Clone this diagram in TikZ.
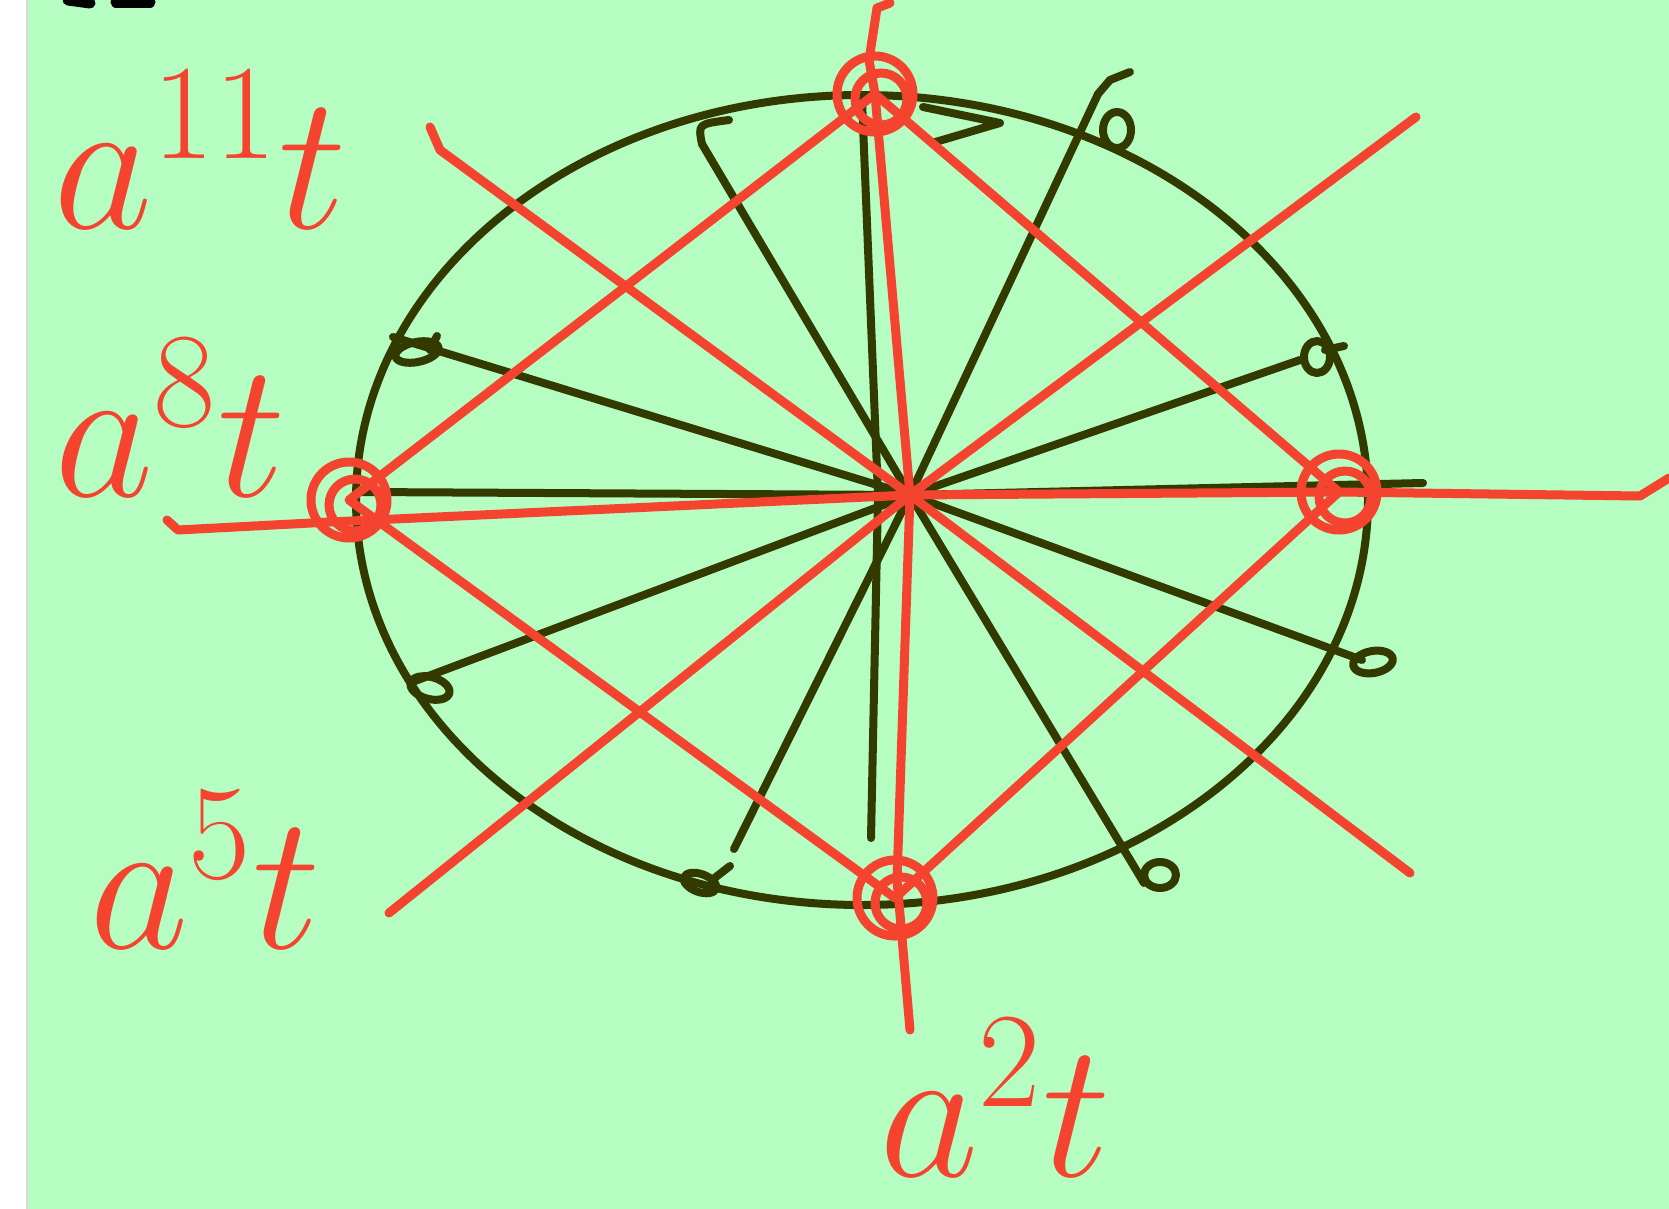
\RequirePackage{fix-cm}
\documentclass[tikz,border=0pt]{standalone}
\usepackage{xcolor}
\usepackage{tikz}
\definecolor{board}{RGB}{181,253,193}
\definecolor{ink}{RGB}{50,58,0}
\definecolor{marker}{RGB}{244,68,48}

\begin{document}
\begin{tikzpicture}[
    x=0.01cm, y=-0.01cm,
    spoke/.style={draw=ink, line width=0.8mm, line cap=round, line join=round},
    redline/.style={draw=marker, line width=0.9mm, line cap=round, line join=round},
    marklabel/.style={text=marker, font=\fontsize{55}{60}\selectfont, inner sep=0pt}
]
    \useasboundingbox (0,0) rectangle (1669,1209);
    \fill[white] (0,0) rectangle (27,1209);
    \fill[board] (27,0) rectangle (1669,1209);
    \draw[gray!30, line width=0.2mm] (27,0) -- (27,1209);

    % cut-off writing at the top edge
    \draw[black, line width=1.1mm, line cap=round] (68,0) -- (90,3);
    \draw[black, line width=1.1mm, line cap=round] (116,2) -- (150,2);

    \coordinate (hub) at (910,495);
    \coordinate (s1) at (862,100);
    \coordinate (s2) at (702,144);
    \coordinate (s3) at (1098,94);
    \coordinate (s4) at (393,337);
    \coordinate (s5) at (1300,360);
    \coordinate (s6) at (362,492);
    \coordinate (s7) at (1423,483);
    \coordinate (s8) at (415,681);
    \coordinate (s9) at (1362,660);
    \coordinate (s10) at (734,849);
    \coordinate (s11) at (871,838);
    \coordinate (s12) at (1144,883);

    % the wheel
    \draw[spoke] (862,500) ellipse [x radius=506, y radius=405];
    \foreach \i in {2,...,10,12}
        \draw[spoke] (hub) -- (s\i);
    \draw[spoke] (s1) -- (878,495) -- (s11);

    % little loops at the spoke ends
    \draw[spoke] (s2) .. controls (698,124) .. (729,120);
    \draw[spoke] (s3) -- (1110,80) -- (1130,72);
    \draw[spoke] (1117,130) ellipse [x radius=14, y radius=18];
    \draw[spoke, rotate around={12:(417,352)}] (417,352) ellipse [x radius=22, y radius=10];
    \draw[spoke] (430,350) -- (437,336);
    \draw[spoke] (1317,357) ellipse [x radius=13, y radius=16];
    \draw[spoke] (1325,350) -- (1344,346);
    \draw[spoke, rotate around={-15:(430,688)}] (430,688) ellipse [x radius=20, y radius=11];
    \draw[spoke, rotate around={10:(1373,662)}] (1373,662) ellipse [x radius=20, y radius=11];
    \draw[spoke] (1160,875) ellipse [x radius=16, y radius=13];
    \draw[spoke, rotate around={-20:(700,883)}] (700,883) ellipse [x radius=17, y radius=9];
    \draw[spoke] (712,880) -- (730,866);
    \draw[spoke] (923,107) -- (1000,123) -- (932,143);

    % red square and axes
    \coordinate (pl) at (349,500);
    \coordinate (pt) at (875,94);
    \coordinate (pr) at (1339,492);
    \coordinate (pb) at (895,898);
    \foreach \c in {pl,pt,pr,pb} {
        \draw[redline] (\c) circle [radius=38];
        \draw[redline] ([shift={(6,5)}]\c) circle [radius=26];
    }
    \draw[redline] (pl) -- (pt) -- (pr) -- (pb) -- cycle;
    \draw[redline] (167,520) -- (178,530) -- (330,522) -- (hub) -- (pr) -- (1640,496) -- (1669,478);
    \draw[redline] (890,3) -- (877,8) -- (869,60) -- (pt) -- (hub) -- (897,880) -- (910,1030);
    \draw[redline] (430,127) -- (440,150) -- (hub) -- (1410,873);
    \draw[redline] (389,913) -- (hub) -- (1416,117);

    % labels
    \node[marklabel] (l11) at (200,150) {$a^{11}t$};
    \node[marklabel] (l8) at (170,418) {$a^{8}t$};
    \node[marklabel] (l5) at (205,870) {$a^{5}t$};
    \node[marklabel] (l2) at (995,1098) {$a^{2}t$};
\end{tikzpicture}
\end{document}
